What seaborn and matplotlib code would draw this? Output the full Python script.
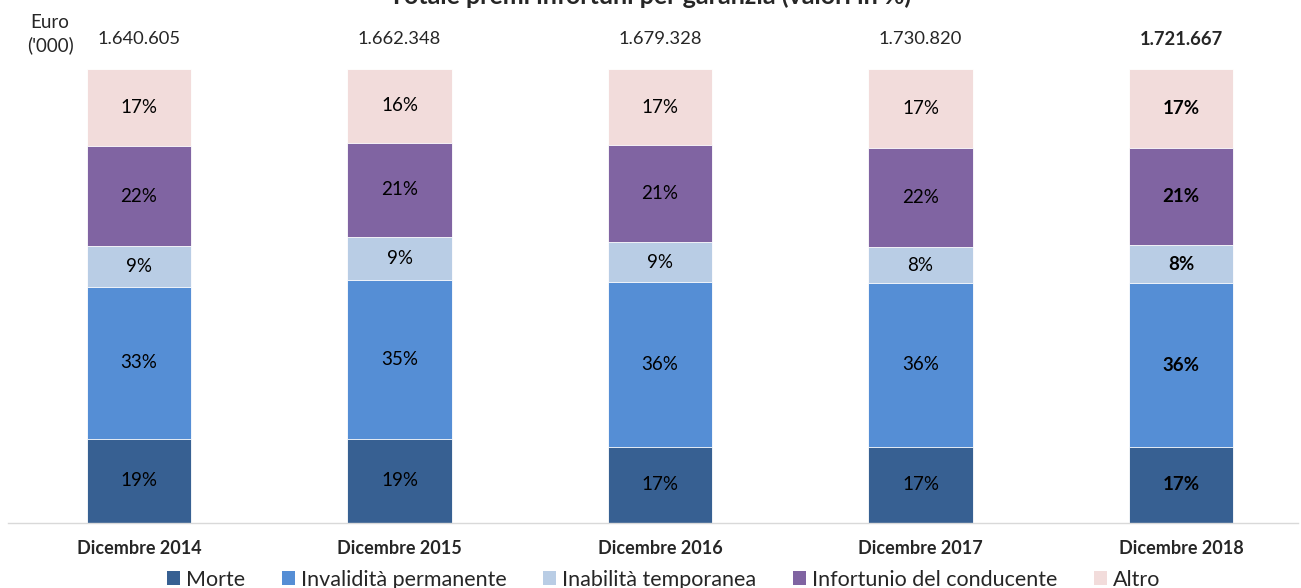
import numpy as np
import pandas as pd
import seaborn as sns
import matplotlib.pyplot as plt
from matplotlib.patches import Patch
import matplotlib.transforms as mtransforms
plt.switch_backend('agg')

years = ['Dicembre 2014', 'Dicembre 2015', 'Dicembre 2016', 'Dicembre 2017', 'Dicembre 2018']
totals = [1640605, 1662348, 1679328, 1730820, 1721667]
series = ['Morte', 'Invalidità permanente', 'Inabilità temporanea', 'Infortunio del conducente', 'Altro']
morte = [18.6, 18.6, 16.8, 16.8, 16.8]
invalidita = [33.4, 34.9, 36.2, 36.1, 36.0]
inabilita = [9.0, 9.4, 8.9, 7.8, 8.4]
infortunio = [22.0, 20.9, 21.3, 21.9, 21.4]
altro = [17.0, 16.2, 16.8, 17.4, 17.4]
colors = ['#376092', '#558ED5', '#B9CDE5', '#8064A2', '#F2DCDB']

sns.set_style('white')
plt.rcParams['font.family'] = ['Lato', 'DejaVu Sans']

df = pd.DataFrame({'year': years, 'Morte': morte, 'Invalidità permanente': invalidita,
                   'Inabilità temporanea': inabilita, 'Infortunio del conducente': infortunio,
                   'Altro': altro})
cum = df[series].cumsum(axis=1)

fig = plt.figure(figsize=(13.01, 5.88), dpi=100)
ax = fig.add_axes([0.00615, 0.1105, 0.9915, 0.7722])

# stacked bars drawn as overlapping cumulative bars, top layer first
for name, col in reversed(list(zip(series, colors))):
    sns.barplot(x=df['year'], y=cum[name], color=col, width=0.4, ax=ax,
                edgecolor='white', linewidth=0.6, saturation=1, order=years)

for i, yr in enumerate(years):
    bold = 'bold' if i == len(years) - 1 else 'normal'
    for name in series:
        mid = cum.loc[i, name] - df.loc[i, name] / 2
        ax.text(i, mid, '%d%%' % round(df.loc[i, name]), ha='center', va='center',
                fontsize=13.5, color='black', fontweight=bold)

trans = mtransforms.blended_transform_factory(ax.transData, ax.transAxes)
for i, t in enumerate(totals):
    bold = 'bold' if i == len(years) - 1 else 'normal'
    ax.text(i, 1.066, f'{t:,}'.replace(',', '.'), transform=trans, ha='center', va='center',
            fontsize=13.2, fontweight=bold)

fig.text(50 / 1301, 0.942, "Euro\n('000)", ha='center', va='center', fontsize=13.5, linespacing=1.4)
fig.text(0.5, 1.007, 'Totale premi infortuni per garanzia (valori in %)', ha='center', va='center',
         fontsize=18, fontweight='bold')

ax.set_xlim(-0.503, 4.449)
ax.set_ylim(0, 100)
ax.set_xlabel('')
ax.set_ylabel('')
ax.set_yticks([])
ax.tick_params(axis='x', length=0, pad=12)
for lab in ax.get_xticklabels():
    lab.set_fontweight('bold')
    lab.set_fontsize(13)
for s in ['top', 'right', 'left']:
    ax.spines[s].set_visible(False)
ax.spines['bottom'].set_color('#D9D9D9')
ax.spines['bottom'].set_linewidth(1)

handles = [Patch(facecolor=c, edgecolor='none', label=s) for s, c in zip(series, colors)]
fig.legend(handles=handles, loc='center', bbox_to_anchor=(0.51, 0.014), ncol=5, frameon=False,
           fontsize=15.5, handlelength=0.6, handleheight=0.6, handletextpad=0.28,
           columnspacing=1.7, borderpad=0)

fig.savefig('out.png', dpi=100)
